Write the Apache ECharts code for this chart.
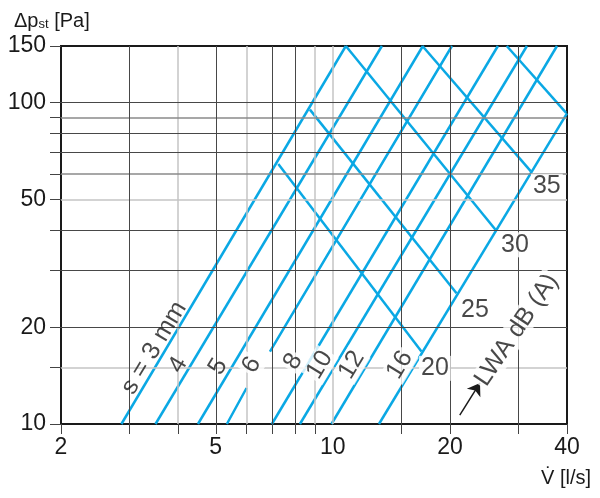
<!DOCTYPE html>
<html>
<head>
<meta charset="utf-8">
<script src="https://cdn.jsdelivr.net/npm/echarts@6/dist/echarts.min.js"></script>
<style>
  html, body { margin: 0; padding: 0; background: #fff; }
  #chart { width: 600px; height: 498px; }
</style>
</head>
<body>
<div id="chart"></div>
<script>
// axis ticks / labels / grid
var xTickValues = [2, 3, 4, 5, 6, 7, 8, 9, 15, 20, 30, 40];
var xLabelValues = [2, 5, 10, 20, 40];
var yTickValues = [10, 15, 20, 30, 40, 50, 60, 70, 80, 90, 100, 150];
var yLabelValues = [10, 20, 50, 100, 150];
var xGridDark = [3, 5, 7, 8, 15, 20, 30];
var xGridLight = [4, 6, 9, 10];
var yGridDark = [20, 30, 40, 70, 80, 100];
var yGridMid = [60, 90];
var yGridLight = [15, 50];

// pressure lines s = 3..16 mm: [V, dp] read at bottom and top
var slotNames = ['3', '4', '5', '6', '8', '10', '12', '16'];
var slotStart = [[2.86, 10], [3.50, 10], [4.50, 10], [5.34, 10], [6.97, 10], [8.23, 10], [9.92, 10], [13.14, 10]];
var slotEnd = [[10.8, 150], [13.37, 150], [17.04, 150], [20.24, 150], [26.57, 150], [31.55, 150], [37.7, 150], [40, 92.6]];
// the s = 6 line is broken around its label
var slot6Gap = [[6.0, 12.94], [6.89, 16.8]];

// noise lines LWA dB(A)
var noiseNames = ['20', '25', '30', '35', '40'];
var noiseStart = [[7.24, 64.4], [8.73, 95.1], [10.8, 150], [17.0, 150], [28.0, 150]];
var noiseEnd = [[16.9, 16.8], [20.8, 25.5], [26.2, 40.2], [32.3, 61.1], [39.8, 92.9]];

// labels
var slotLabels = ['s = 3 mm', '4', '5', '6', '8', '10', '12', '16'];
var slotLabelPos = [[3.47, 17.25], [4.0, 15.27], [5.07, 15.08], [6.18, 15.27], [7.91, 15.64], [9.26, 15.27], [11.18, 15.27], [14.87, 15.27]];
var noiseLabels = ['20', '25', '30', '35'];
var noiseLabelPos = [[18.3, 14.9], [23.2, 22.65], [29.4, 36.1], [35.5, 54.9]];
var lwaLabelPos = [29.7, 19.6];
var arrowPts = [[21.2, 10.66], [23.9, 13.42]];

var FONT = "'Liberation Sans', Arial, sans-serif";
var BLUE = '#0aa8e4';
var INK = '#1a1a1a';

var chart = echarts.init(document.getElementById('chart'));

function gridMarks(vals, axis, color, width) {
  return vals.map(function (v) {
    var d = {lineStyle: {color: color, width: width, type: 'solid'}};
    d[axis] = v;
    return d;
  });
}

var series = [];

// grid lines
series.push({
  type: 'scatter',
  data: [],
  z: 1,
  silent: true,
  markLine: {
    silent: true,
    symbol: ['none', 'none'],
    label: {show: false},
    animation: false,
    data: [].concat(
      gridMarks(xGridLight, 'xAxis', '#c4c4c4', 1.5),
      gridMarks(yGridLight, 'yAxis', '#c4c4c4', 1.5),
      gridMarks(yGridMid, 'yAxis', '#8a8a8a', 1.5),
      gridMarks(xGridDark, 'xAxis', '#474747', 1),
      gridMarks(yGridDark, 'yAxis', '#474747', 1)
    )
  }
});

slotNames.forEach(function (name, i) {
  var pts = [slotStart[i], slotEnd[i]];
  if (name === '6') {
    pts = [slotStart[i], slot6Gap[0], ['-', '-'], slot6Gap[1], slotEnd[i]];
  }
  series.push({
    name: 's' + name,
    type: 'line',
    data: pts,
    z: 3,
    showSymbol: false,
    symbol: 'none',
    lineStyle: {color: BLUE, width: 2.5},
    animation: false
  });
});

noiseNames.forEach(function (name, i) {
  series.push({
    name: 'L' + name,
    type: 'line',
    data: [noiseStart[i], noiseEnd[i]],
    z: 3,
    showSymbol: false,
    symbol: 'none',
    lineStyle: {color: BLUE, width: 2.5},
    animation: false
  });
});

// arrow pointing at the LWA caption
series.push({
  type: 'scatter',
  data: [],
  z: 4,
  silent: true,
  markLine: {
    silent: true,
    animation: false,
    symbol: ['none', 'arrow'],
    symbolSize: 12,
    label: {show: false},
    lineStyle: {color: INK, width: 1.5, type: 'solid'},
    data: [[{coord: arrowPts[0]}, {coord: arrowPts[1]}]]
  }
});

function labelStyle(rotate, bg) {
  return {
    show: true,
    position: 'inside',
    formatter: '{b}',
    rotate: rotate,
    fontFamily: FONT,
    fontSize: 25,
    color: INK,
    backgroundColor: bg ? '#fff' : 'transparent',
    padding: [0, 2]
  };
}

// rotated s labels (3, 4, 5 sit beside their lines, the others break them)
series.push({
  type: 'scatter',
  z: 5,
  symbolSize: 0,
  data: slotLabelPos.map(function (p, i) {
    return {value: p, name: slotLabels[i], label: labelStyle(59, i >= 3)};
  }),
  animation: false
});

// noise labels
series.push({
  type: 'scatter',
  z: 5,
  symbolSize: 0,
  data: noiseLabelPos.map(function (p, i) { return {value: p, name: noiseLabels[i]}; }),
  label: labelStyle(0, true),
  animation: false
});

series.push({
  type: 'scatter',
  z: 5,
  symbolSize: 0,
  data: [{value: lwaLabelPos, name: 'LWA dB (A)'}],
  label: labelStyle(56, true),
  animation: false
});

var option = {
  animation: false,
  title: [
    {
      text: '{a|Δp}{b|st}{a| [Pa]}',
      left: 9,
      top: 2,
      textStyle: {
        rich: {
          a: {fontFamily: FONT, fontSize: 20, fontWeight: 'normal', color: INK, verticalAlign: 'bottom', lineHeight: 24},
          b: {fontFamily: FONT, fontSize: 13, fontWeight: 'normal', color: INK, verticalAlign: 'bottom', lineHeight: 19}
        }
      }
    },
    {
      text: 'V\u0307 [l/s]',
      left: 536,
      top: 463,
      textStyle: {fontFamily: FONT, fontSize: 20, fontWeight: 'normal', color: INK}
    }
  ],
  grid: {
    left: 61, right: 33, top: 46, bottom: 74,
    show: true,
    borderColor: INK,
    borderWidth: 2,
    backgroundColor: '#fff'
  },
  xAxis: {
    type: 'log',
    logBase: 10,
    min: 2,
    max: 40,
    axisLine: {show: true, lineStyle: {color: INK, width: 2}},
    axisTick: {show: true, customValues: xTickValues, length: 10, lineStyle: {color: '#444', width: 1}},
    axisLabel: {customValues: xLabelValues, margin: 12, fontFamily: FONT, fontSize: 23, color: INK},
    splitLine: {show: false},
    minorTick: {show: false},
    minorSplitLine: {show: false}
  },
  yAxis: {
    type: 'log',
    logBase: 10,
    min: 10,
    max: 150,
    axisLine: {show: true, lineStyle: {color: INK, width: 2}},
    axisTick: {show: true, customValues: yTickValues, length: 11, lineStyle: {color: '#444', width: 1}},
    axisLabel: {customValues: yLabelValues, margin: 15, fontFamily: FONT, fontSize: 23, color: INK},
    splitLine: {show: false},
    minorTick: {show: false},
    minorSplitLine: {show: false}
  },
  series: series
};

chart.setOption(option);
</script>
</body>
</html>
